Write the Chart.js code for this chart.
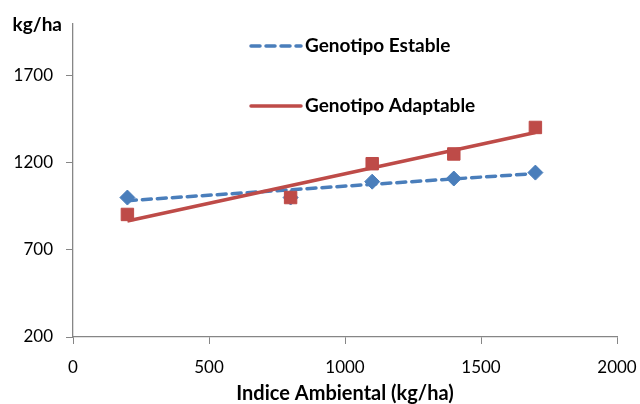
<!DOCTYPE html>
<html>
<head>
<meta charset="utf-8">
<script src="https://cdn.jsdelivr.net/npm/chart.js"></script>
<style>
  html, body { margin: 0; padding: 0; background: #fff; }
  #wrap { width: 640px; height: 404px; }
</style>
</head>
<body>
<div id="wrap"><canvas id="chart"></canvas></div>
<script>
// valores
const indiceX = [200, 800, 1100, 1400, 1700];
const estable = [1000, 1000, 1091, 1109, 1143];
const adaptable = [903, 1000, 1194, 1250, 1402];
// extremos de las lineas de tendencia
const tendX = [200, 1700];
const tendEstable = [982, 1138];
const tendAdaptable = [865, 1373];
const yTicks = [200, 700, 1200, 1700];
const nombres = ['Genotipo Estable', 'Genotipo Adaptable'];

const azul = '#4A7EBB';
const rojo = '#BE4B48';
const gris = '#868686';
const fuente = 'Lato, "Open Sans", sans-serif';

const pares = (xs, ys) => xs.map((x, i) => ({x: x, y: ys[i]}));

// dibuja leyenda y la etiqueta "kg/ha"
const extras = {
    id: 'extras',
    afterDraw(chart) {
        const ctx = chart.ctx;
        ctx.save();
        ctx.font = 'bold 19px ' + fuente;
        ctx.fillStyle = '#000';
        ctx.textBaseline = 'middle';
        ctx.textAlign = 'right';
        ctx.fillText('kg/ha', 62, 25);

        const items = [
            {ds: chart.data.datasets[2], y: 46},
            {ds: chart.data.datasets[3], y: 106}
        ];
        ctx.textAlign = 'left';
        items.forEach(it => {
            ctx.beginPath();
            ctx.strokeStyle = it.ds.borderColor;
            ctx.lineWidth = it.ds.borderWidth;
            ctx.lineCap = 'round';
            ctx.setLineDash(it.ds.borderDash || []);
            ctx.moveTo(251, it.y);
            ctx.lineTo(301, it.y);
            ctx.stroke();
            ctx.setLineDash([]);
            ctx.fillText(it.ds.label, 305, it.y);
        });
        ctx.restore();
    }
};

new Chart(document.getElementById('chart'), {
    type: 'scatter',
    data: {
        datasets: [
            {
                label: 'Estable',
                data: pares(indiceX, estable),
                pointStyle: 'rectRot',
                pointRadius: 7.5,
                backgroundColor: azul,
                borderColor: azul,
                borderWidth: 1,
                order: 3
            },
            {
                label: 'Adaptable',
                data: pares(indiceX, adaptable),
                pointStyle: 'rect',
                pointRadius: 8.8,
                backgroundColor: rojo,
                borderColor: rojo,
                borderWidth: 1,
                order: 1
            },
            {
                label: nombres[0],
                data: pares(tendX, tendEstable),
                showLine: true,
                pointRadius: 0,
                borderColor: azul,
                borderWidth: 3.5,
                borderDash: [9, 6],
                borderCapStyle: 'round',
                order: 4
            },
            {
                label: nombres[1],
                data: pares(tendX, tendAdaptable),
                showLine: true,
                pointRadius: 0,
                borderColor: rojo,
                borderWidth: 3.5,
                order: 2
            }
        ]
    },
    options: {
        responsive: true,
        maintainAspectRatio: false,
        animation: false,
        events: [],
        layout: { padding: { top: 22, right: 23, left: 0, bottom: 0 } },
        plugins: {
            legend: { display: false },
            tooltip: { enabled: false }
        },
        scales: {
            x: {
                type: 'linear',
                min: 0,
                max: 2000,
                ticks: {
                    stepSize: 500,
                    color: '#000',
                    font: { family: fuente, size: 17 },
                    padding: 13,
                    callback: v => String(v)
                },
                grid: { drawOnChartArea: false, color: gris, tickLength: 7 },
                border: { color: gris, width: 1.3 },
                title: {
                    display: true,
                    text: 'Indice Ambiental (kg/ha)',
                    color: '#000',
                    font: { family: fuente, size: 20, weight: 'bold', lineHeight: 1 },
                    padding: { top: 4, bottom: 0 }
                },
                afterFit(scale) {
                    scale.height = 67;
                    scale.paddingLeft = 0;
                    scale.paddingRight = 0;
                }
            },
            y: {
                type: 'linear',
                min: 200,
                max: 2000,
                afterBuildTicks(scale) { scale.ticks = yTicks.map(v => ({value: v})); },
                ticks: {
                    color: '#000',
                    font: { family: fuente, size: 17 },
                    padding: 13,
                    callback: v => String(v)
                },
                grid: { drawOnChartArea: false, color: gris, tickLength: 7 },
                border: { color: gris, width: 1.3 },
                afterFit(scale) { scale.width = 73; }
            }
        }
    },
    plugins: [extras]
});
</script>
</body>
</html>
